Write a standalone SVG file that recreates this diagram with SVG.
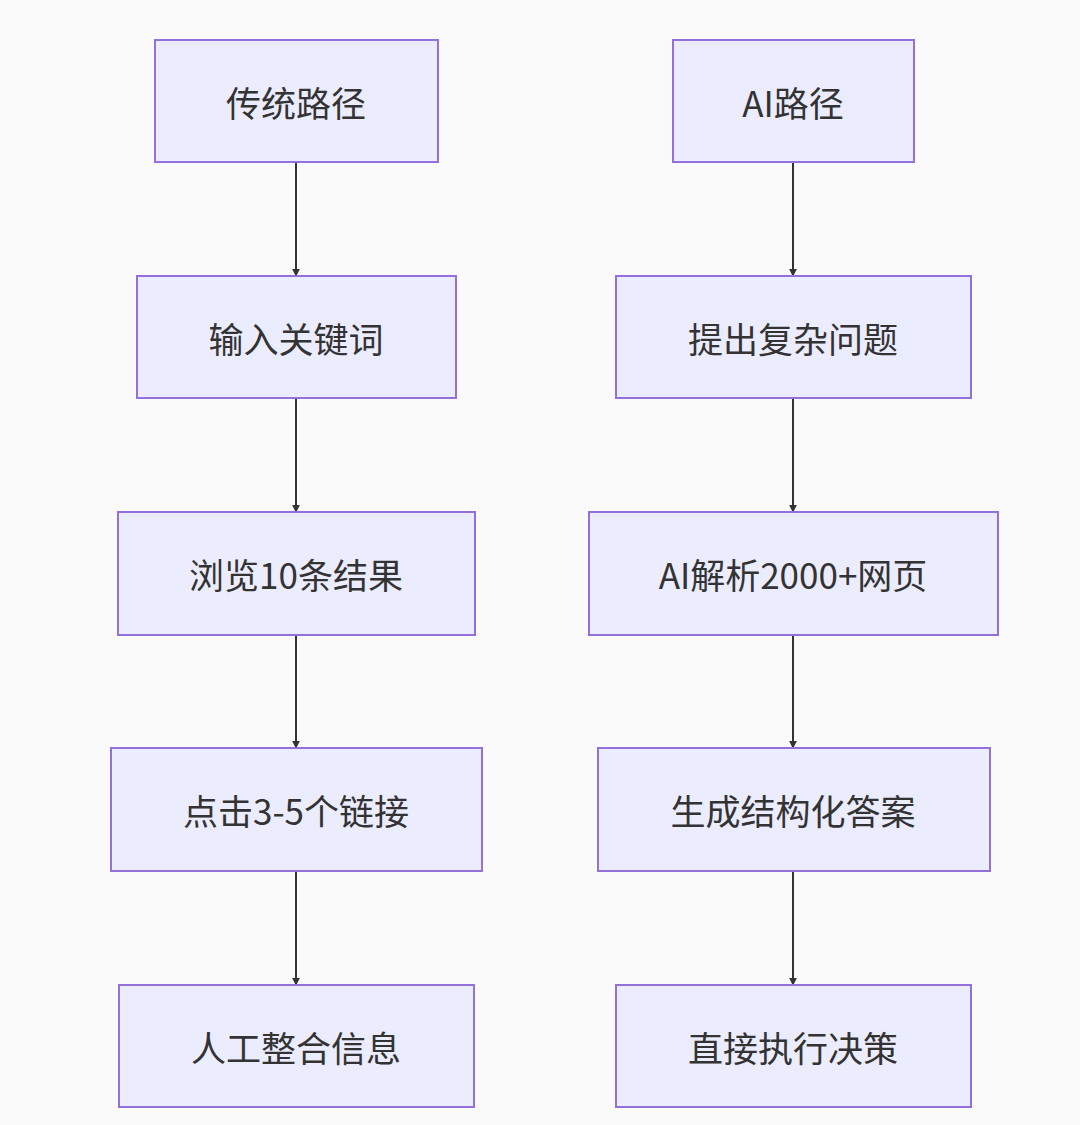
<svg xmlns="http://www.w3.org/2000/svg" width="1080" height="1125" viewBox="0 0 1080 1125">
<defs>
<style>
.n rect{fill:#ECECFF;stroke:#9370DB;stroke-width:2}
.n text{font-family:"Noto Sans CJK SC","Noto Sans",sans-serif;font-size:35px;fill:#333;text-anchor:middle;dominant-baseline:central}
.e line{stroke:#333;stroke-width:2;marker-end:url(#a)}
</style>
<marker id="a" viewBox="0 0 10 10" refX="9" refY="5" markerWidth="8" markerHeight="8" orient="auto" markerUnits="userSpaceOnUse"><path d="M0,0L10,5L0,10z" fill="#333"/></marker>
</defs>
<rect width="1080" height="1125" fill="#fafafa"/>
<g class="e">
<line x1="296" y1="162" x2="296" y2="276"/>
<line x1="296" y1="398" x2="296" y2="512"/>
<line x1="296" y1="635" x2="296" y2="748"/>
<line x1="296" y1="871" x2="296" y2="985"/>
<line x1="793" y1="162" x2="793" y2="276"/>
<line x1="793" y1="398" x2="793" y2="512"/>
<line x1="793" y1="635" x2="793" y2="748"/>
<line x1="793" y1="871" x2="793" y2="985"/>
</g>
<g id="l1" class="n"><rect x="155" y="40" width="283" height="122"/><text x="296" y="101">传统路径</text></g>
<g id="l2" class="n"><rect x="137" y="276" width="319" height="122"/><text x="296" y="337">输入关键词</text></g>
<g id="l3" class="n"><rect x="118" y="512" width="357" height="123"/><text x="296" y="573">浏览10条结果</text></g>
<g id="l4" class="n"><rect x="111" y="748" width="371" height="123"/><text x="296" y="809">点击3-5个链接</text></g>
<g id="l5" class="n"><rect x="119" y="985" width="355" height="122"/><text x="296" y="1046">人工整合信息</text></g>
<g id="r1" class="n"><rect x="673" y="40" width="241" height="122"/><text x="793" y="101">AI路径</text></g>
<g id="r2" class="n"><rect x="616" y="276" width="355" height="122"/><text x="793" y="337">提出复杂问题</text></g>
<g id="r3" class="n"><rect x="589" y="512" width="409" height="123"/><text x="793" y="573">AI解析2000+网页</text></g>
<g id="r4" class="n"><rect x="598" y="748" width="392" height="123"/><text x="793" y="809">生成结构化答案</text></g>
<g id="r5" class="n"><rect x="616" y="985" width="355" height="122"/><text x="793" y="1046">直接执行决策</text></g>
</svg>
